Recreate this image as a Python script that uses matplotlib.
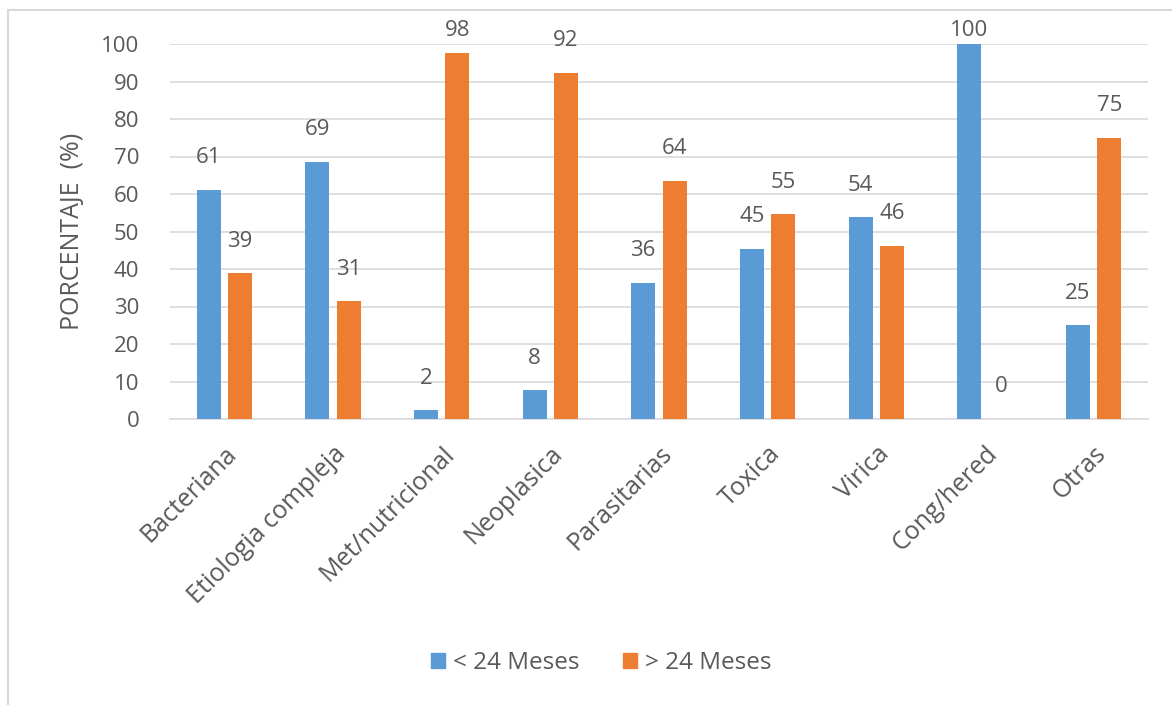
import matplotlib.pyplot as plt
from matplotlib.lines import Line2D
import numpy as np

categories = ['Bacteriana', 'Etiologia compleja', 'Met/nutricional', 'Neoplasica',
              'Parasitarias', 'Toxica', 'Virica', 'Cong/hered', 'Otras']
menos_24 = [61.1, 68.6, 2.4, 7.7, 36.4, 45.4, 53.8, 100, 25]
mas_24 = [38.9, 31.4, 97.6, 92.3, 63.6, 54.6, 46.2, 0, 75]
series_names = ['< 24 Meses', '> 24 Meses']

blue = '#5b9bd5'
orange = '#ed7d31'
txt = '#595959'

plt.rcParams['font.family'] = ['Open Sans', 'DejaVu Sans']

W, H = 1172, 705
fig = plt.figure(figsize=(W / 100, H / 100), dpi=100)
y0_px, y100_px = 419, 44
ax = fig.add_axes([170 / W, 1 - y0_px / H, (1148 - 170) / W, (y0_px - y100_px) / H])

x = np.arange(len(categories))
w = 0.22
off = 0.145
b1 = ax.bar(x - off, menos_24, w, color=blue, label=series_names[0], zorder=3)
b2 = ax.bar(x + off, mas_24, w, color=orange, label=series_names[1], zorder=3)

px_per_unit = (y0_px - y100_px) / 100
for bars, vals in ((b1, menos_24), (b2, mas_24)):
    for rect, v in zip(bars, vals):
        top_px = y0_px - v * px_per_unit
        off_px = min(32, top_px - 30)   # keep labels inside the chart area
        ax.annotate('%.0f' % v, (rect.get_x() + rect.get_width() / 2, v),
                    xytext=(0, off_px * 0.72), textcoords='offset points',
                    ha='center', va='center', fontsize=16, color=txt,
                    annotation_clip=False)

ax.set_xlim(-0.5, len(categories) - 0.5)
ax.set_ylim(0, 100)
ax.set_yticks(range(0, 101, 10))
ax.set_xticks(x)
ax.set_xticklabels(categories, rotation=45, ha='right', rotation_mode='anchor')
ax.tick_params(axis='y', length=0, labelsize=16, colors=txt, pad=22)
ax.tick_params(axis='x', length=0, labelsize=18, colors=txt, pad=16)
ax.grid(axis='y', color='#d9d9d9', linewidth=1.2, zorder=0)
for s in ['top', 'right', 'left']:
    ax.spines[s].set_visible(False)
ax.spines['bottom'].set_color('#d9d9d9')
ax.spines['bottom'].set_linewidth(1.2)

ax.set_ylabel('PORCENTAJE  (%)', fontsize=18, color=txt, labelpad=12)

handles = [plt.Rectangle((0, 0), 1, 1, color=blue), plt.Rectangle((0, 0), 1, 1, color=orange)]
fig.legend(handles, series_names, loc='center', bbox_to_anchor=(601 / W, 1 - 663 / H),
           ncol=2, frameon=False, fontsize=17.5, labelcolor=txt,
           handlelength=0.6, handleheight=0.6, handletextpad=0.3, columnspacing=1.8)

# chart border (left and top edges visible)
fig.add_artist(Line2D([8 / W, 8 / W], [0, 1 - 10 / H], color='#d9d9d9', linewidth=1.5))
fig.add_artist(Line2D([8 / W, 1], [1 - 10 / H, 1 - 10 / H], color='#d9d9d9', linewidth=1.5))

fig.savefig('out.png', dpi=100)
